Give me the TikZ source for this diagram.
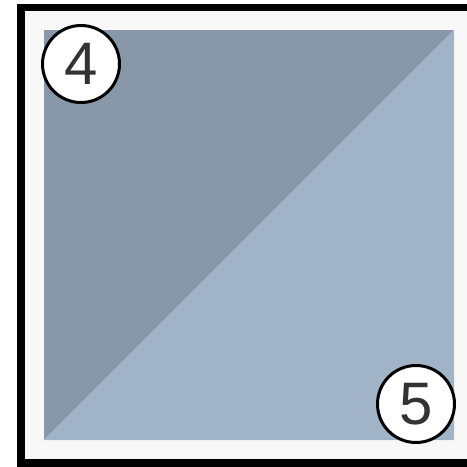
\documentclass[tikz,border=0pt]{standalone}
\usepackage{fontspec}
\setmainfont{Liberation Sans}
\definecolor{pagegray}{HTML}{F8F8F8}
\definecolor{darkblue}{HTML}{8898A9}
\definecolor{lightblue}{HTML}{A1B3C6}
\definecolor{digit}{HTML}{333333}
\begin{document}
\begin{tikzpicture}[x=1pt,y=-1pt,
  badge/.style={circle,draw=black,line width=3pt,fill=white,minimum size=77pt,inner sep=0pt,text=digit,font=\fontsize{60}{60}\selectfont}]
\useasboundingbox (0,0) rectangle (467,467);
\clip (0,0) rectangle (467,467);
\fill[white] (0,0) rectangle (467,467);
\fill[black] (17,3.5) rectangle (490,490);
\fill[pagegray] (25,11) rectangle (490,458.5);
\coordinate (tl) at (44,30);
\coordinate (tr) at (454,30);
\coordinate (bl) at (44,440);
\coordinate (br) at (454,440);
\fill[darkblue] (tl) -- (tr) -- (bl) -- cycle;
\fill[lightblue] (tr) -- (br) -- (bl) -- cycle;
\node[badge] (n4) at (81,64) {4};
\node[badge] (n5) at (416,404) {5};
\end{tikzpicture}
\end{document}
